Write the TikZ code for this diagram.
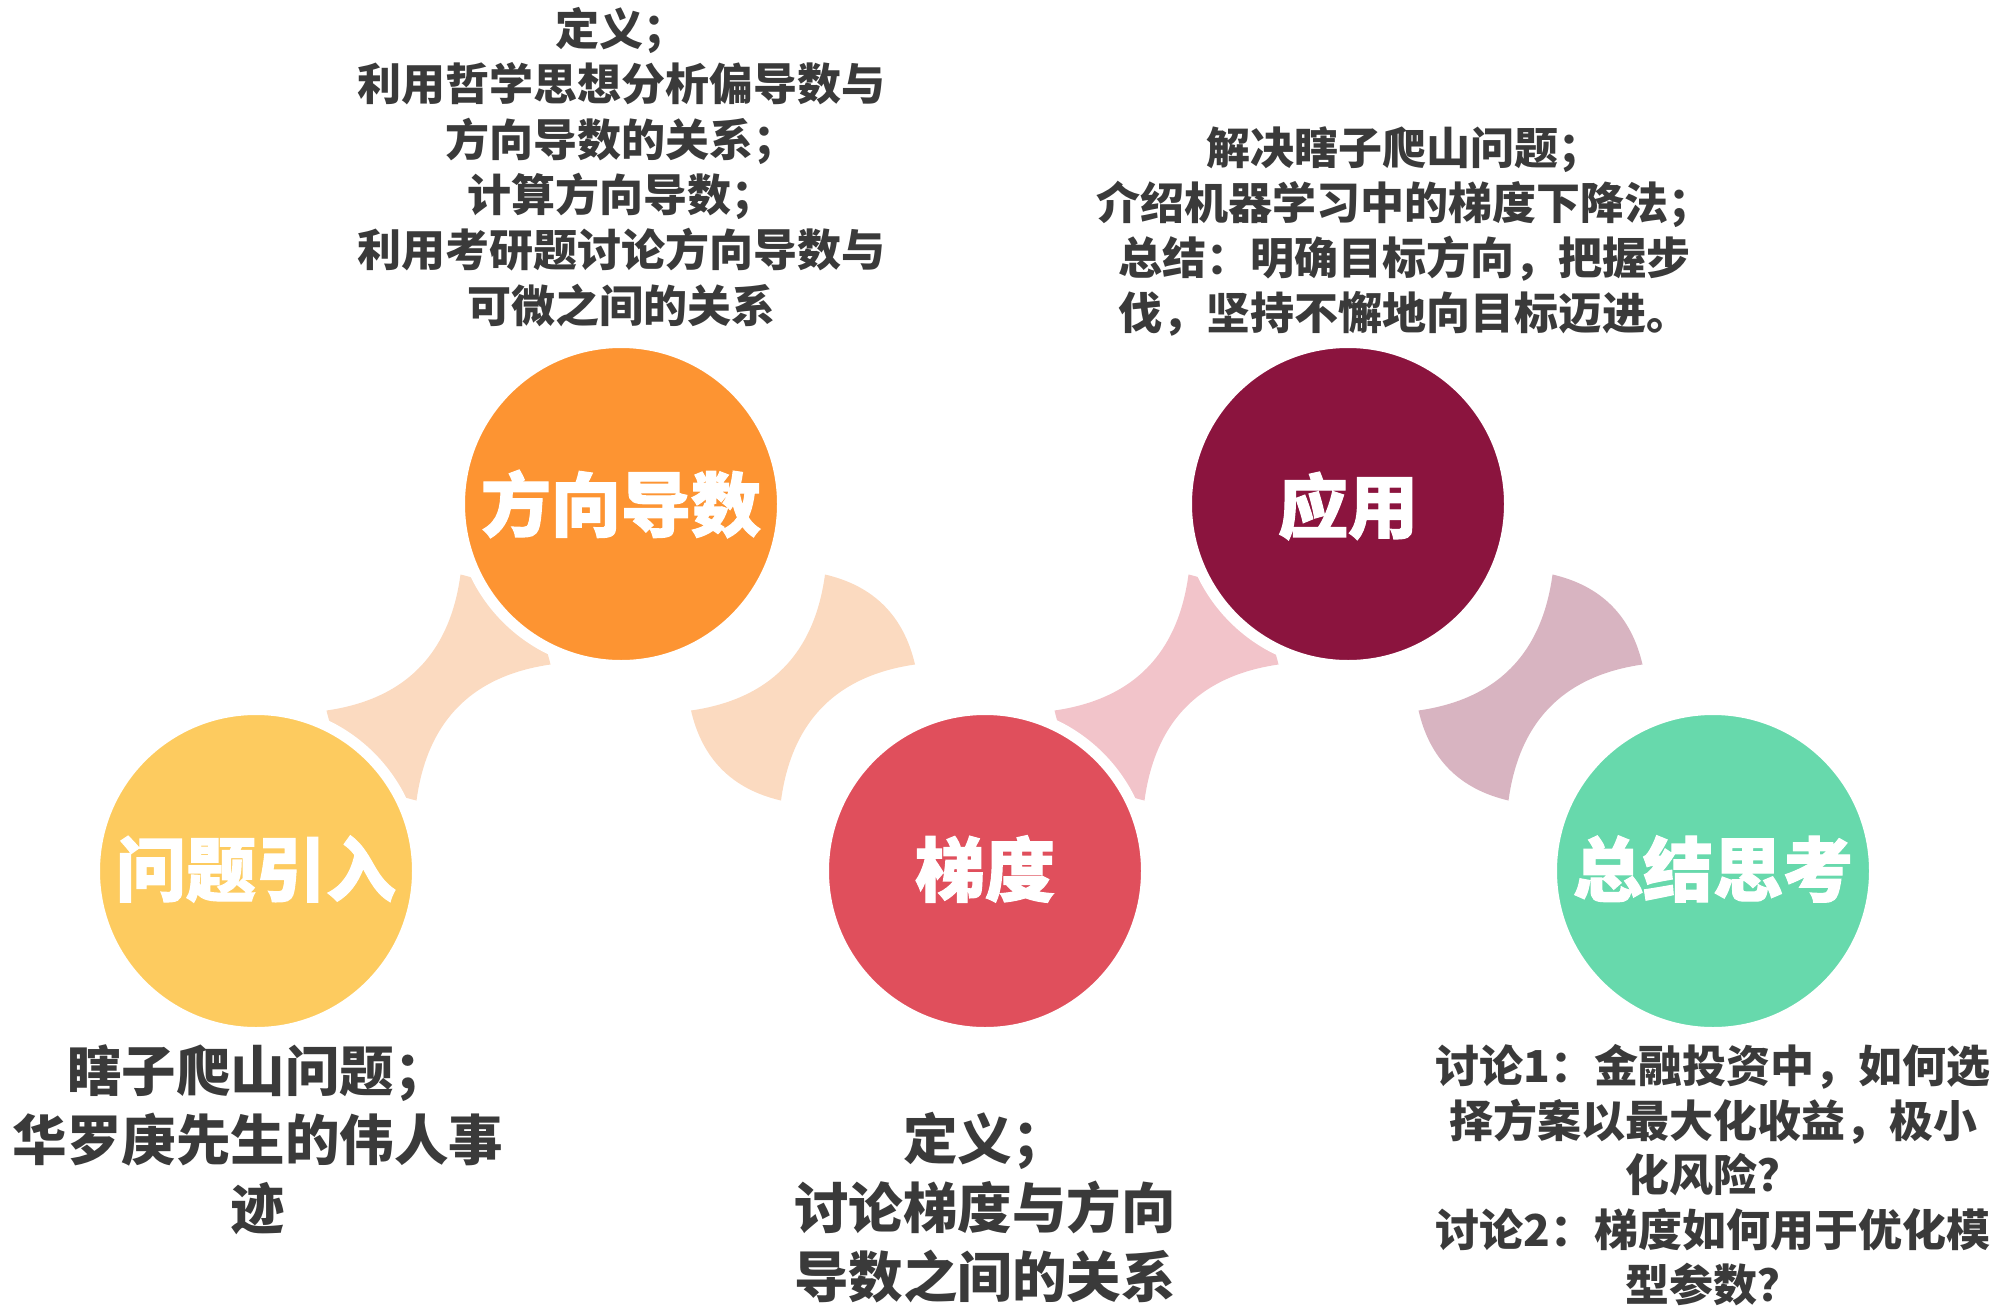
\documentclass[tikz,border=0pt]{standalone}
\usepackage{fontspec}
\newfontfamily\cjk{Noto Sans CJK SC}
\newfontfamily\cjkheavy{Noto Sans CJK SC}[BoldFeatures={FakeBold=1.6}]
\usetikzlibrary{calc}
\definecolor{cyel}{HTML}{FDCB5F}
\definecolor{corg}{HTML}{FD9432}
\definecolor{cred}{HTML}{E04F5C}
\definecolor{cmar}{HTML}{8B143E}
\definecolor{cgrn}{HTML}{67D9AC}
\definecolor{cpeach}{HTML}{FBDAC0}
\definecolor{cpink}{HTML}{F2C4CA}
\definecolor{cmauve}{HTML}{D8B4C1}
\definecolor{ctext}{HTML}{3A3A3A}
\tikzset{
  bubble/.style={circle, minimum size=323pt, inner sep=0pt, draw=white, line width=11pt},
  label/.style={inner sep=0pt, text=white, font=\cjkheavy\bfseries\fontsize{70}{80}\selectfont},
  desc/.style={align=center, inner sep=0pt, text=ctext},
  desclg/.style={desc, font=\cjk\bfseries\fontsize{54.5}{69}\selectfont},
  descsm/.style={desc, font=\cjk\bfseries\fontsize{44}{55.3}\selectfont},
  descxs/.style={desc, font=\cjk\bfseries\fontsize{44}{54.6}\selectfont},
  fourstar/.pic={
    \path[pic actions] (-112,23) .. controls (-33.3,11.7) and (11.3,-33.7) .. (22,-113)
      .. controls (70.7,-101.7) and (100.7,-71.7) .. (112,-23)
      .. controls (33.3,-11.7) and (-11.3,33.7) .. (-22,113)
      .. controls (-70.7,101.7) and (-100.7,71.7) .. cycle;
  }
}
\begin{document}
\begin{tikzpicture}[x=1pt,y=-1pt]
\useasboundingbox (0,0) rectangle (2000,1314);
% circle centres
\coordinate (c1) at (256,871);
\coordinate (c2) at (621,504);
\coordinate (c3) at (985,871);
\coordinate (c4) at (1348,504);
\coordinate (c5) at (1713,871);
\coordinate (s1) at ($(c1)!0.5!(c2)$);
\coordinate (s2) at ($(c2)!0.5!(c3)$);
\coordinate (s3) at ($(c3)!0.5!(c4)$);
\coordinate (s4) at ($(c4)!0.5!(c5)$);
% stars
\begin{scope}[shift={(s1)}] \pic[fill=cpeach] {fourstar}; \end{scope}
\begin{scope}[shift={(s2)}, xscale=-1] \pic[fill=cpeach] {fourstar}; \end{scope}
\begin{scope}[shift={(s3)}] \pic[fill=cpink] {fourstar}; \end{scope}
\begin{scope}[shift={(s4)}, xscale=-1] \pic[fill=cmauve] {fourstar}; \end{scope}
% circles
\node[bubble, fill=cyel] (q1) at (c1) {};
\node[bubble, fill=corg] (q2) at (c2) {};
\node[bubble, fill=cred] (q3) at (c3) {};
\node[bubble, fill=cmar] (q4) at (c4) {};
\node[bubble, fill=cgrn] (q5) at (c5) {};
\node[label] (l1) at ($(c1)+(0,-2)$) {问题引入};
\node[label] (l2) at ($(c2)+(0,0)$) {方向导数};
\node[label] (l3) at ($(c3)+(0,-2)$) {梯度};
\node[label] (l4) at ($(c4)+(0,2)$) {应用};
\node[label] (l5) at ($(c5)+(0,-2)$) {总结思考};
% descriptions
\node[desclg] (t1) at (258,1140) {瞎子爬山问题；\\华罗庚先生的伟人事\\迹};
\node[descsm] (t2) at (621,167) {定义；\\利用哲学思想分析偏导数与\\方向导数的关系；\\计算方向导数；\\利用考研题讨论方向导数与\\可微之间的关系};
\node[desclg] (t3) at (985,1207.5) {定义；\\讨论梯度与方向\\导数之间的关系};
\node[descsm] (t4) at (1404,231.5) {解决瞎子爬山问题；\\介绍机器学习中的梯度下降法；\\总结：明确目标方向，把握步\\伐，坚持不懈地向目标迈进。};
\node[descxs] (t5) at (1713,1175) {讨论1：金融投资中，如何选\\择方案以最大化收益，极小\\化风险？\\讨论2：梯度如何用于优化模\\型参数？};
\end{tikzpicture}
\end{document}
